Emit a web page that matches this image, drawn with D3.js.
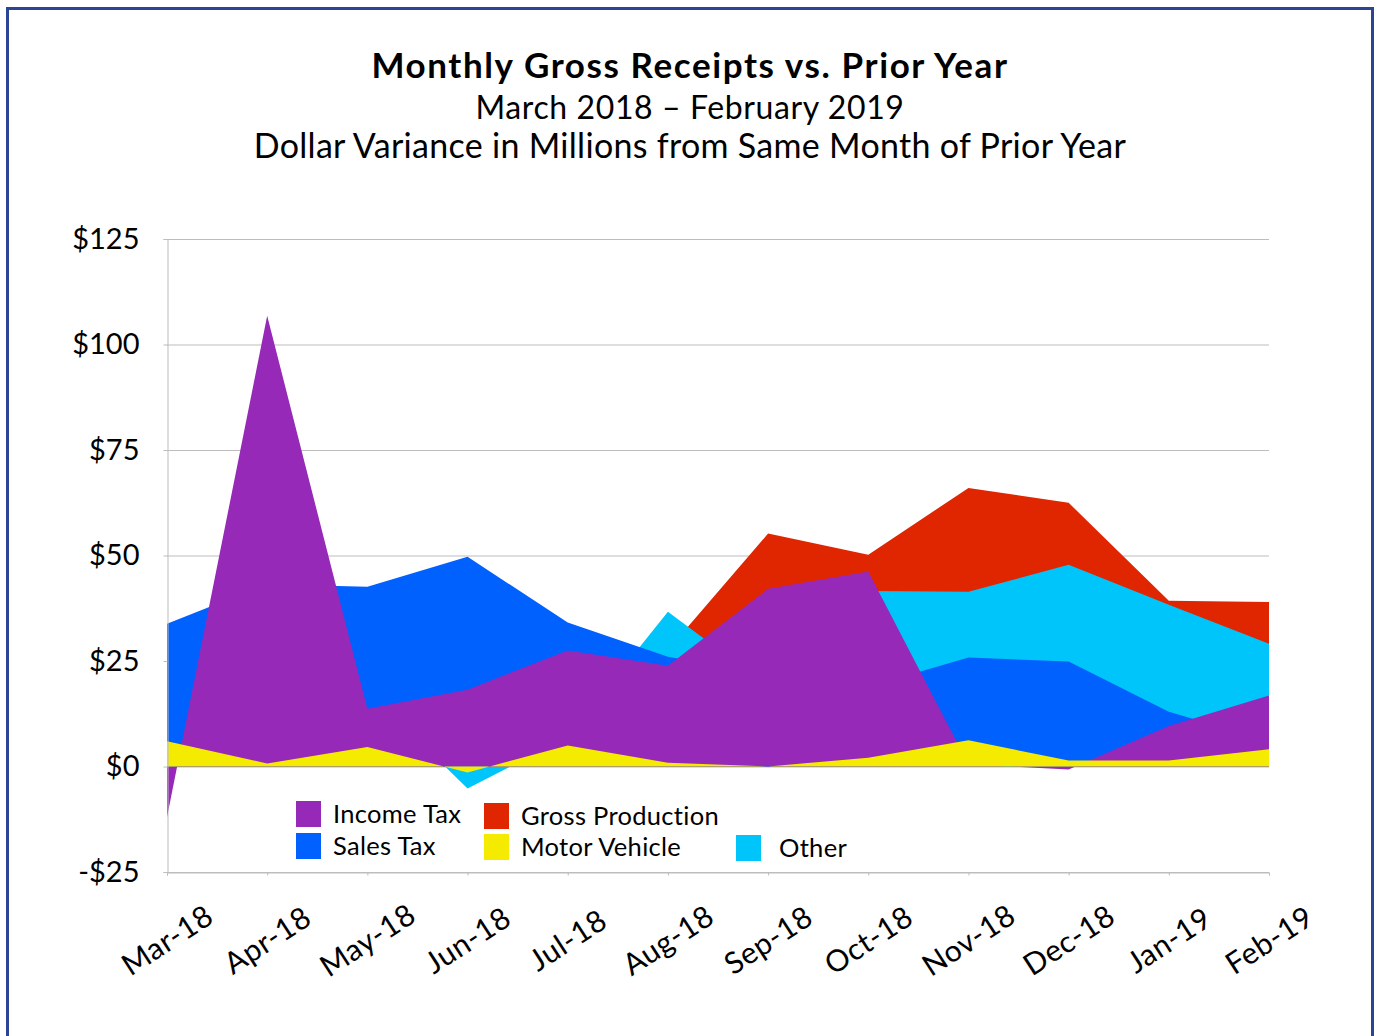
<!DOCTYPE html>
<html>
<head>
<meta charset="utf-8">
<script src="https://cdn.jsdelivr.net/npm/d3@7"></script>
<style>
  html, body { margin: 0; padding: 0; background: #fff; }
  svg { display: block; font-family: Lato, "Open Sans", sans-serif; }
</style>
</head>
<body>
<div id="chart-container"></div>
<script>
// Dollar variance in millions vs same month of prior year
const months = ['Mar-18', 'Apr-18', 'May-18', 'Jun-18', 'Jul-18', 'Aug-18', 'Sep-18', 'Oct-18', 'Nov-18', 'Dec-18', 'Jan-19', 'Feb-19'];
const incomeTax = [-12, 106.8, 13.7, 18.2, 27.5, 23.9, 42.1, 46.2, 0.5, -0.7, 9.6, 16.8];
const salesTax = [33.8, 43.2, 42.6, 49.7, 34.1, 26, 22, 18.9, 25.8, 24.9, 13, 6];
const grossProduction = [5, 10, 8, 12, 15, 27.6, 55.2, 50.2, 66, 62.5, 39.3, 39];
const motorVehicle = [6, 0.7, 4.6, -1.4, 5, 0.9, 0, 2.1, 6.2, 1.4, 1.4, 4.1];
const other = [8, 12, 18, -5.2, 7, 36.7, 19, 41.6, 41.4, 47.8, 38.3, 29.1];
const yTicks = [-25, 0, 25, 50, 75, 100, 125];

// back to front
const series = [
  { name: 'Gross Production', values: grossProduction, color: '#e02600' },
  { name: 'Other', values: other, color: '#00c5fb' },
  { name: 'Sales Tax', values: salesTax, color: '#0061fe' },
  { name: 'Income Tax', values: incomeTax, color: '#9729b9' },
  { name: 'Motor Vehicle', values: motorVehicle, color: '#f5eb00' }
];

const W = 1376, H = 1036;
const margin = { top: 239, right: 107, bottom: 164, left: 167 };

const svg = d3.select('#chart-container').append('svg')
  .attr('width', W).attr('height', H);

// frame
svg.append('rect')
  .attr('x', 7.5).attr('y', 8.5).attr('width', 1365).attr('height', 1040)
  .attr('fill', 'none').attr('stroke', '#2c4494').attr('stroke-width', 3);

// titles
svg.append('text').attr('x', 690).attr('y', 78).attr('text-anchor', 'middle')
  .attr('font-size', 35).attr('font-weight', 'bold').attr('letter-spacing', 1.6)
  .text('Monthly Gross Receipts vs. Prior Year');
svg.append('text').attr('x', 690).attr('y', 119).attr('text-anchor', 'middle')
  .attr('font-size', 32).attr('letter-spacing', 0.6).text('March 2018 – February 2019');
svg.append('text').attr('x', 690).attr('y', 158).attr('text-anchor', 'middle')
  .attr('font-size', 34).attr('letter-spacing', 0.3)
  .text('Dollar Variance in Millions from Same Month of Prior Year');

const x = d3.scalePoint().domain(months).range([margin.left, W - margin.right]);
const y = d3.scaleLinear().domain([-25, 125]).range([H - margin.bottom, margin.top]);

// gridlines
svg.append('g').selectAll('line').data(yTicks).join('line')
  .attr('x1', margin.left).attr('x2', W - margin.right)
  .attr('y1', d => y(d) + 0.5).attr('y2', d => y(d) + 0.5)
  .attr('stroke', '#bdbdbd').attr('stroke-width', 1);

// areas
const area = d3.area()
  .x((d, i) => x(months[i]))
  .y0(y(0))
  .y1(d => y(d));

svg.append('g').selectAll('path').data(series).join('path')
  .attr('d', d => area(d.values))
  .attr('fill', d => d.color);

// y axis
const yAxis = svg.append('g')
  .attr('transform', `translate(${margin.left + 0.5},0)`)
  .call(d3.axisLeft(y).tickValues(yTicks).tickSize(4).tickPadding(24)
    .tickFormat(d => (d < 0 ? '-$' : '$') + Math.abs(d)));
yAxis.select('.domain').attr('stroke', '#bdbdbd');
yAxis.selectAll('.tick line').attr('stroke', '#bdbdbd');
yAxis.selectAll('.tick text').attr('font-size', 29).attr('font-family', 'Lato').attr('fill', '#000');

// x axis at bottom
const xAxis = svg.append('g')
  .attr('transform', `translate(0,${y(-25) + 0.5})`)
  .call(d3.axisBottom(x).tickSize(3).tickFormat(''));
xAxis.select('.domain').attr('stroke', '#bdbdbd');
xAxis.selectAll('.tick line').attr('stroke', '#bdbdbd');

svg.append('g').selectAll('text').data(months).join('text')
  .attr('transform', d => `translate(${x(d) + 6},${y(-25) + 77}) rotate(-33)`)
  .attr('text-anchor', 'middle')
  .attr('font-size', 30)
  .attr('letter-spacing', 0.5)
  .text(d => d);

// legend
const legendItems = [
  { name: 'Income Tax', color: '#9729b9', lx: 296, ly: 801 },
  { name: 'Sales Tax', color: '#0061fe', lx: 296, ly: 833 },
  { name: 'Gross Production', color: '#e02600', lx: 484, ly: 803 },
  { name: 'Motor Vehicle', color: '#f5eb00', lx: 484, ly: 834 },
  { name: 'Other', color: '#00c5fb', lx: 736, ly: 835 }
];
const lg = svg.append('g').selectAll('g').data(legendItems).join('g')
  .attr('transform', d => `translate(${d.lx},${d.ly})`);
lg.append('rect').attr('width', 25).attr('height', 26).attr('fill', d => d.color);
lg.append('text')
  .attr('x', d => d.name === 'Other' ? 43 : 37)
  .attr('y', 22).attr('font-size', 25.5).attr('letter-spacing', 0.3).text(d => d.name);
</script>
</body>
</html>
